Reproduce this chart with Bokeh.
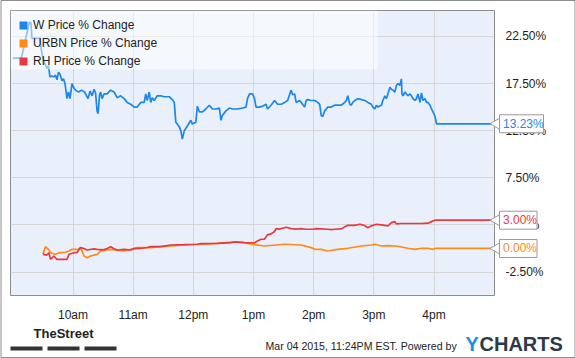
import math
from bokeh.plotting import figure
from bokeh.models import (Range1d, FixedTicker, PrintfTickFormatter, Legend, LegendItem,
                          BoxAnnotation, ColumnDataSource)
from bokeh.core.properties import value
from bokeh.embed import file_html
from bokeh.resources import INLINE

# ---- data (minutes after 9:00 am, % change) ----
W_MIN = [0, 8.5, 16.5, 18, 19, 27, 28.5, 30.5, 32, 34, 35.5, 37, 39, 41, 42.5, 44, 45.5, 47, 49, 50.5,
         52, 54, 55.5, 57, 59, 60.5, 62.5, 65.5, 68.5, 71.5, 75, 77, 79, 81, 82.5, 84, 85, 86.5, 87.5, 89,
         91, 94, 97.5, 101, 104, 107.5, 111, 114, 117.5, 121, 124, 127.5, 131, 132.5, 134, 136, 137.5, 139,
         141, 144, 147.5, 151, 156, 159, 161, 162.5, 164, 166, 167.5, 169, 171, 174, 177.5, 179, 182.5,
         184, 186, 189, 192.5, 196, 199, 202.5, 206, 207.5, 209, 212.5, 216, 219, 224, 229, 232.5, 234,
         236, 239, 241, 242.5, 246, 249, 252.5, 254, 257.5, 261, 264, 267.5, 271, 274, 277.5, 279, 281,
         282.5, 286, 287.5, 291, 292.5, 294, 297.5, 301, 304, 306, 307.5, 309, 311, 314, 317.5, 321, 324,
         327.5, 331, 332.5, 334, 336, 337.5, 339, 341, 344, 347.5, 351, 354, 357.5, 359, 361, 362.5, 364,
         367.5, 369, 371, 372.5, 374, 376, 377.5, 379, 381, 382.5, 384, 386, 387.5, 388, 389, 391, 392.5,
         394, 396, 397.5, 399, 401, 402.5, 404, 406, 407.5, 409, 411, 412.5, 414, 416, 417.5, 419, 421,
         422.5, 485]
W_PCT = [20.2, 20.2, 24.0, 24.0, 22.3, 22.3, 21.0, 19.95, 19.6, 19.1, 19.4, 18.2, 18.3, 18.2, 18.4, 17.9,
         18.7, 18.5, 17.8, 18.0, 17.5, 15.9, 16.6, 15.9, 17.5, 17.1, 16.8, 16.6, 16.8, 16.6, 15.9, 16.7,
         16.2, 16.9, 16.5, 14.6, 14.3, 16.3, 16.6, 15.9, 16.4, 16.4, 16.8, 16.6, 16.0, 16.2, 15.9, 15.5,
         15.3, 15.0, 15.0, 15.5, 15.5, 16.4, 15.7, 16.6, 15.5, 16.0, 15.7, 16.2, 16.2, 16.1, 16.1, 15.8,
         15.5, 13.4, 13.2, 12.9, 12.5, 11.6, 12.5, 13.0, 13.6, 13.2, 13.4, 15.1, 14.5, 14.5, 14.8, 15.2,
         14.8, 14.8, 14.9, 13.6, 14.1, 14.6, 14.9, 14.8, 14.8, 14.9, 15.0, 15.9, 16.4, 16.4, 15.9, 15.0,
         15.0, 15.1, 15.3, 14.8, 15.2, 15.7, 15.3, 15.3, 15.5, 15.7, 16.8, 16.3, 16.4, 15.5, 15.7, 15.5,
         15.0, 15.7, 15.8, 15.7, 15.7, 15.5, 15.3, 14.1, 14.0, 14.6, 15.0, 15.0, 15.2, 15.2, 15.2, 15.5,
         15.7, 16.2, 15.3, 15.2, 15.5, 15.7, 15.9, 15.8, 15.7, 15.5, 15.3, 15.0, 14.8, 15.2, 15.0, 15.2,
         15.7, 16.2, 15.9, 16.4, 17.1, 16.9, 16.8, 16.6, 17.3, 17.5, 17.3, 18.0, 16.4, 16.2, 16.6, 16.4,
         16.2, 16.4, 16.2, 15.9, 15.7, 15.9, 16.4, 15.5, 16.5, 15.7, 15.9, 15.5, 15.5, 15.2, 14.8, 14.5,
         14.0, 13.23, 13.23]

URBN_MIN = [30, 32.5, 36, 37.5, 42.5, 46, 51, 56, 59, 66, 67.5, 71, 74, 77.5, 84, 87.5, 97.5, 111, 117.5,
            124, 137.5, 147.5, 167.5, 187.5, 204, 221, 231, 237.5, 251, 271, 287.5, 297.5, 301, 307.5, 314,
            324, 334, 347.5, 357.5, 361, 367.5, 374, 381, 387.5, 394, 401, 407.5, 414, 419, 421, 485]
URBN_PCT = [-0.6, 0.19, -0.16, -0.45, -0.62, -0.45, -0.45, -0.27, -0.09, -0.09, 0.09, -0.8, -0.98, -0.8,
            -0.62, -0.27, -0.09, -0.27, -0.09, 0.09, 0.09, 0.19, 0.34, 0.45, 0.55, 0.69, 0.62, 0.45, 0.26,
            0.45, 0.37, 0.09, -0.09, -0.09, -0.27, -0.09, 0.02, 0.26, 0.37, 0.45, 0.26, 0.3, 0.26, 0.16,
            0.02, -0.09, 0.02, 0.02, -0.09, 0.0, 0.0]

RH_MIN = [30, 34, 36, 37.5, 41, 42.5, 44, 54, 56, 61, 64, 66, 67.5, 71, 74, 81, 84, 90.5, 94, 97.5, 100.5,
          104, 111, 117.5, 121, 127.5, 134, 137.5, 147.5, 157.5, 170.5, 184, 187.5, 204, 217.5, 221, 230.5,
          241, 244, 247.5, 251, 254, 257.5, 261, 262.5, 265.5, 269, 272.5, 277.5, 282.5, 287.5, 292.5, 299,
          302.5, 307.5, 314, 317.5, 321, 327.5, 332.5, 334, 340.5, 346, 350.5, 354, 357.5, 362.5, 367.5,
          374, 377.5, 381, 382.5, 387.5, 394, 401, 407.5, 414, 417.5, 421, 485]
RH_PCT = [-0.62, -0.7, -0.45, -1.15, -0.8, -0.98, -1.15, -1.15, -0.62, -0.45, -0.45, -0.09, 0.09, 0.0,
          -0.16, -0.05, -0.09, -0.15, 0.0, 0.19, 0.0, -0.16, -0.09, -0.16, -0.02, 0.0, 0.1, 0.19, 0.2, 0.37,
          0.4, 0.45, 0.51, 0.55, 0.62, 0.69, 0.62, 0.6, 0.8, 0.98, 1.0, 1.45, 1.55, 1.8, 2.1, 2.05, 2.15,
          2.25, 2.1, 2.05, 2.1, 2.04, 2.04, 2.1, 2.08, 2.04, 2.0, 2.04, 2.08, 2.39, 2.45, 2.45, 2.57, 2.45,
          2.2, 2.4, 2.57, 2.5, 2.39, 2.74, 2.85, 2.6, 2.65, 2.65, 2.65, 2.65, 2.68, 2.85, 3.0, 3.0]

SERIES_NAMES = ["W Price % Change", "URBN Price % Change", "RH Price % Change"]
X_TICKS = [10, 11, 12, 13, 14, 15, 16]
X_TICK_LABELS = ["10am", "11am", "12pm", "1pm", "2pm", "3pm", "4pm"]
Y_TICKS = [-2.5, 2.5, 7.5, 12.5, 17.5, 22.5]
FOOTER_DATE = "Mar 04 2015, 11:24PM EST.  Powered by"

BLUE = "#1b88e8"
ORANGE = "#ff8a14"
RED = "#e8393f"
FONT = "Liberation Sans"
NAN = float("nan")

# frame geometry (page pixels) and ranges
FL, FR, FT, FB = 10, 494, 10, 295
X0, X1 = 8.961, 17.005
Y0, Y1 = -4.99, 25.25
PX_H = (FR - FL) / (X1 - X0)      # pixels per hour
PX_P = (FB - FT) / (Y1 - Y0)      # pixels per percent point


def hours(mins):
    return [9 + m / 60.0 for m in mins]


def at_x(px):   # page pixel -> x coordinate (for layout decorations)
    return X0 + (px - FL) / PX_H


def at_y(py):   # page pixel -> y coordinate (for layout decorations)
    return Y1 - (py - FT) / PX_P


p = figure(width=575, height=358, output_backend="svg", toolbar_location=None,
           x_range=Range1d(X0, X1), y_range=Range1d(Y0, Y1),
           y_axis_location="right",
           min_border_left=FL, min_border_top=FT, min_border_right=575 - FR,
           min_border_bottom=358 - FB)
p.background_fill_color = "#eaf0fb"
p.border_fill_color = "white"
p.outline_line_color = "#8c8c8c"
p.outline_line_width = 1

xa = p.xaxis[0]
xa.ticker = FixedTicker(ticks=X_TICKS)
xa.major_label_overrides = {t: l for t, l in zip(X_TICKS, X_TICK_LABELS)}
ya = p.yaxis[0]
ya.ticker = FixedTicker(ticks=Y_TICKS)
ya.formatter = PrintfTickFormatter(format="%.2f%%")
for ax in (xa, ya):
    ax.axis_line_color = None
    ax.major_tick_line_color = None
    ax.minor_tick_line_color = None
    ax.major_label_text_font = FONT
    ax.major_label_text_font_size = "12px"
    ax.major_label_text_color = "#222222"
xa.major_label_standoff = 6
ya.major_label_standoff = 5

for g in (p.xgrid[0], p.ygrid[0]):
    g.grid_line_color = "#d6d6d6"
    g.grid_line_width = 1

p.line(hours(W_MIN), W_PCT, line_color=BLUE, line_width=1.7)
p.line(hours(URBN_MIN), URBN_PCT, line_color=ORANGE, line_width=1.7)
p.line(hours(RH_MIN), RH_PCT, line_color=RED, line_width=1.7)

# translucent band behind the legend
p.add_layout(BoxAnnotation(right=367, right_units="screen", bottom=(FB - FT) - 59,
                           bottom_units="screen", fill_color="white", fill_alpha=0.5,
                           line_color=None))

# legend swatches (NaN position: nothing is drawn on the plot itself)
sw = [p.rect(x=[NAN], y=[NAN], width=1, height=1, fill_color=c, line_color=None)
      for c in (BLUE, ORANGE, RED)]
legend = Legend(items=[LegendItem(label=n, renderers=[r]) for n, r in zip(SERIES_NAMES, sw)],
                location="top_left", margin=8, padding=12, spacing=4,
                glyph_width=10, glyph_height=10, label_standoff=5,
                label_width=200, label_height=13,
                label_text_font=FONT, label_text_font_size="12px", label_text_color="#222222",
                background_fill_alpha=0, border_line_color=None)
p.add_layout(legend)

# last-value callouts beside the right edge (overlay level so they are not clipped)
last_vals = [W_PCT[-1], RH_PCT[-1], URBN_PCT[-1]]
texts = [f"{v:.2f}%" for v in last_vals]
cols = [BLUE, RED, ORANGE]
widths = [6.5 * len(t) + 5 for t in texts]
cs = ColumnDataSource(dict(
    y=last_vals, text=texts, color=cols, w=widths,
    xt=[at_x(FR + 3)] * 3,
    xr=[at_x(FR + 5 + w / 2.0) for w in widths],
    xs=[at_x(FR + 8.5)] * 3))
p.scatter(x="xt", y="y", source=cs, marker="triangle", angle=math.pi / 2, size=13,
          fill_color="white", line_color="#999999", line_width=1, level="overlay")
p.rect(x="xr", y="y", width="w", height=18, width_units="screen", height_units="screen",
       source=cs, fill_color="white", line_color="#999999", line_width=1, level="overlay")
p.text(x="xs", y="y", text="text", source=cs, text_color="color", text_align="left",
       text_baseline="middle", text_font=value(FONT), text_font_size="12px", level="overlay")

# footer (branding and timestamp)
p.text(x=[at_x(63)], y=[at_y(333)], text=["TheStreet"], text_align="center",
       text_baseline="middle", text_font=value(FONT), text_font_style=value("bold"),
       text_font_size="13px", text_color="#222222", level="overlay")
p.rect(x=[at_x(26), at_x(63), at_x(100)], y=[at_y(348)] * 3, width=32, height=4,
       width_units="screen", height_units="screen", fill_color="#333333", line_color=None,
       level="overlay")
p.text(x=[at_x(265)], y=[at_y(345)], text=[FOOTER_DATE], text_align="left",
       text_baseline="middle", text_font=value(FONT), text_font_size="10.6px",
       text_color="#222222", level="overlay")
p.text(x=[at_x(465), at_x(479)], y=[at_y(343)] * 2, text=["Y", "CHARTS"],
       text_color=["#1a90e4", "#2c3a48"], text_align="left", text_baseline="middle",
       text_font=value(FONT), text_font_style=value("bold"), text_font_size="20px",
       level="overlay")

# thin outer frame around the whole graphic
p.rect(x=[at_x(287.5)], y=[at_y(178.5)], width=574, height=357, width_units="screen",
       height_units="screen", fill_color=None, line_color="#8c8c8c", line_width=1,
       level="overlay")

open("out.html", "w").write(file_html(p, INLINE))
